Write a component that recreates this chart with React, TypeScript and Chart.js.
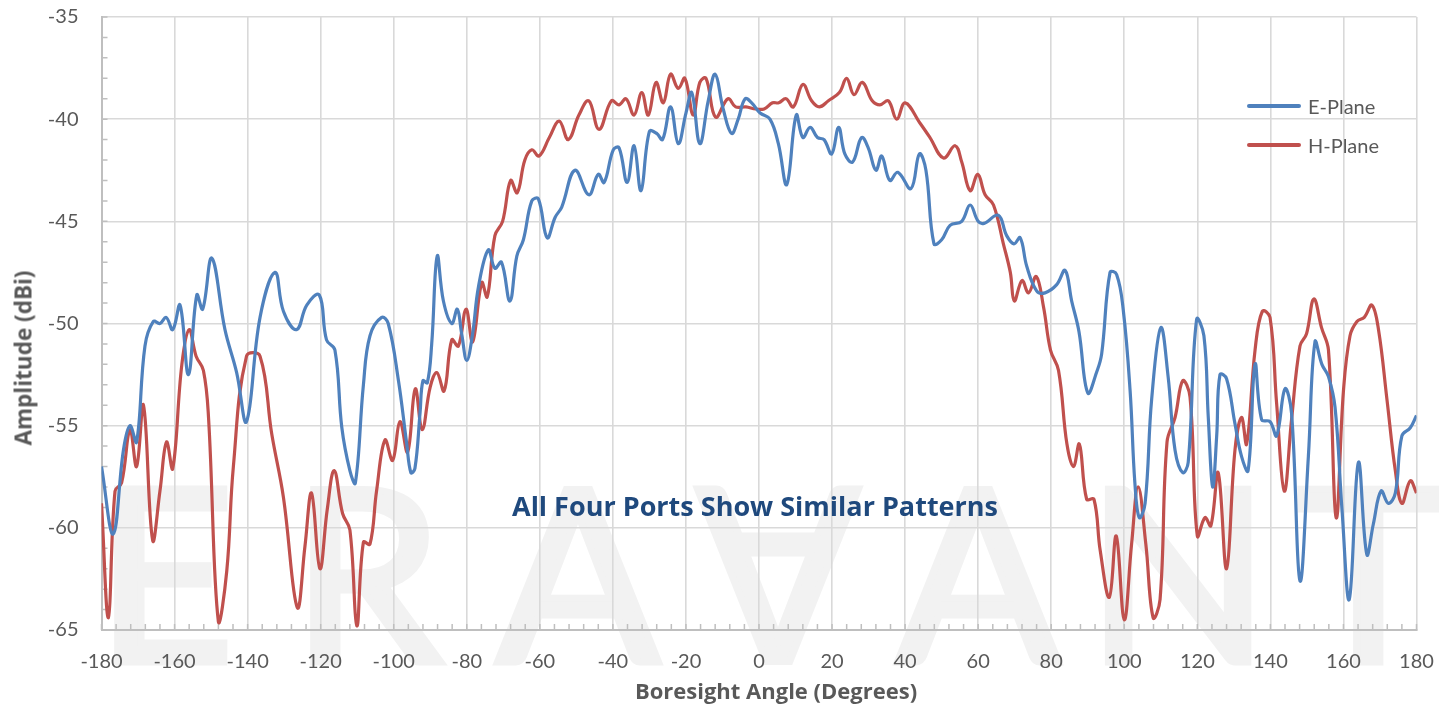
import React, { useEffect, useRef } from "react";
import { Chart, registerables } from "chart.js";

Chart.register(...registerables);

// ---- Data ----
const ePlaneAngles = [
  -180, -176.8, -174, -172.2, -170.4, -168.1, -165.8, -164, -162.3, -160.5, -158.5, -156.2, -153.9, -152.3,
  -149.8, -146.2, -143, -140.3, -136.6, -132.5, -130.2, -126.6, -123.8, -120.4, -118.4, -116.1, -114.2, -112,
  -110.5, -108.3, -106.5, -103.3, -101.5, -98.7, -96.5, -95.3, -94.2, -92.8, -92, -90.8, -89.6, -88.1, -86.4,
  -84.1, -82.6, -81.4, -80, -78.4, -76.8, -74.1, -72.3, -70.5, -68.2, -66.3, -64.5, -62.2, -60.4, -58, -55.8,
  -54, -50.4, -46.6, -44, -42.4, -39.9, -38.3, -36.1, -34.2, -32.3, -30, -28, -26.4, -24.2, -22.1, -20, -18.4,
  -16.2, -13.9, -12, -9.8, -7.5, -5.7, -3.8, -2, 0.3, 3, 5.3, 7.6, 10.2, 12, 14, 16, 17.8, 19.9, 21.8, 23.5,
  25.6, 28.1, 29.9, 32, 33.6, 35.8, 38, 41.6, 43.9, 45.7, 47.9, 50, 52.3, 55.5, 57.8, 60, 61.6, 65.5, 67.8,
  69.8, 71.5, 73.3, 76, 78.3, 81.5, 83.8, 85.6, 87.6, 90, 92.4, 93.8, 96.1, 97.9, 99.7, 101.6, 102.9, 104.1,
  105.7, 107.5, 110, 112, 113.9, 116, 117.5, 119.8, 121.8, 123, 124.2, 125.3, 126.2, 128, 130.3, 132.1, 133.9,
  135.8, 137.6, 139.9, 141.7, 144, 145.8, 148.1, 150.4, 152.2, 154.1, 155.9, 157.7, 159.6, 161.6, 164.1, 166.4,
  168.2, 170.3, 172.3, 174.2, 176, 178.3, 180,
];
const ePlaneValues = [
  -57.0, -60.3, -56.2, -55.0, -55.8, -51.1, -49.9, -50.0, -49.7, -50.3, -49.1, -52.5, -48.6, -49.3,
  -46.8, -50.3, -52.4, -54.8, -49.7, -47.5, -49.4, -50.3, -49.1, -48.6, -50.8, -51.3, -55.1, -57.2,
  -57.8, -53.0, -50.6, -49.7, -50.0, -52.8, -55.8, -57.3, -57.1, -54.4, -52.8, -52.9, -51.0, -46.7, -48.9,
  -50.0, -49.3, -50.5, -51.8, -50.5, -48.2, -46.4, -47.3, -47.0, -48.9, -46.7, -45.9, -44.0, -43.9, -45.8, -44.8,
  -44.3, -42.5, -43.7, -42.7, -43.1, -41.5, -41.4, -43.1, -41.3, -43.5, -40.6, -40.7, -41.0, -39.4, -41.2, -39.7, -38.7,
  -41.2, -39.1, -37.8, -39.5, -40.7, -40.0, -39.0, -39.2, -39.7, -40.0, -41.2, -43.2, -39.8, -40.9, -40.4, -40.9, -41.0, -41.7, -40.4, -41.7,
  -42.1, -40.9, -41.4, -42.5, -41.8, -43.0, -42.6, -43.4, -41.7, -42.5, -46.1, -45.9, -45.2, -45.0, -44.2, -45.0, -45.1, -44.7, -45.7,
  -46.1, -45.8, -47.2, -48.4, -48.5, -48.1, -47.4, -48.9, -50.4, -53.4, -52.4, -51.5, -47.5, -47.6, -49.3, -53.3, -57.8, -59.5,
  -58.8, -53.7, -50.2, -52.6, -56.2, -57.3, -56.8, -49.8, -50.6, -54.6, -58.0, -55.5, -52.5, -52.7, -54.9, -56.5, -57.2,
  -52.0, -54.7, -54.8, -55.5, -53.2, -54.4, -62.6, -56.5, -50.9, -52.0, -52.6, -54.1, -59.1, -63.5, -56.8, -61.3,
  -59.8, -58.2, -58.8, -58.3, -55.5, -55.1, -54.5,
];

const hPlaneAngles = [
  -180, -178.1, -176.3, -174.5, -172.2, -170.4, -168.5, -166, -164, -162.2, -160.5, -158, -156, -154.1, -152.1,
  -150.7, -148, -145.7, -143.9, -140.3, -136.6, -133.4, -130.2, -126.4, -124.3, -122.5, -120.2, -118.2, -116.3,
  -114, -112, -110.1, -108.3, -106.5, -104.7, -102.4, -100.3, -98.3, -96.2, -94.1, -92.2, -90, -88.2, -86.2,
  -84.1, -82.3, -80.2, -78.4, -75.9, -74.4, -72.3, -70.2, -68, -66.2, -64.1, -62.2, -60.2, -57.4, -54.7, -52.2,
  -49.3, -46.6, -43.8, -40.4, -38.3, -36.4, -34.2, -32.1, -30.3, -28.2, -26.2, -24.2, -22.1, -20.3, -18, -16.2,
  -14.5, -11.9, -8.5, -6.4, -3.6, -0.9, 1.4, 3.7, 5.4, 7.4, 9.4, 12, 14.4, 16.5, 19, 22, 24, 26, 28.3, 31, 33.1,
  35.4, 37.7, 40, 44.1, 46.8, 50.5, 53.7, 55.5, 57.8, 59.9, 61.9, 64.2, 66.9, 68.8, 69.9, 72, 73.8, 75.9, 77.9,
  79.8, 82, 84.3, 86.1, 87.7, 89.7, 91.7, 93.4, 95.9, 97.8, 100, 102, 103.8, 105.9, 107.9, 109.8, 111.7, 113.9,
  116, 118, 120, 122.1, 123.7, 125.7, 128, 130.3, 132.1, 133.5, 135.8, 137.8, 139.9, 141.7, 143.8, 145.8, 148.1,
  149.9, 151.9, 154, 155.9, 158, 160, 161.8, 163.7, 165.7, 167.8, 169.6, 171.9, 174.2, 176, 178.3, 180,
];
const hPlaneValues = [
  -58.8, -64.4, -58.2, -57.8, -55.2, -57.0, -54.0, -60.6, -58.2, -55.8, -57.1, -52.0, -50.3, -51.6, -52.3,
  -54.6, -64.6, -62.1, -57.0, -51.6, -51.6, -55.4, -58.5, -63.9, -60.9, -58.3, -62.0, -59.1, -57.2,
  -59.3, -60.1, -64.8, -60.7, -60.8, -58.2, -55.7, -56.7, -54.8, -56.3, -53.2, -55.2, -53.1, -52.4, -53.3,
  -50.8, -51.1, -49.3, -50.9, -48.0, -48.7, -45.7, -45.0, -43.0, -43.6, -42.0, -41.5, -41.8, -40.9, -40.1, -41.0,
  -39.8, -39.1, -40.5, -39.1, -39.3, -39.0, -39.8, -38.7, -39.8, -38.2, -39.2, -37.8, -38.5, -38.0, -39.8, -38.2,
  -38.0, -39.9, -39.0, -39.4, -39.4, -39.5, -39.5, -39.2, -39.2, -39.0, -39.4, -38.3, -39.1, -39.4, -39.1, -38.7, -38.0, -38.8, -38.2, -39.1, -39.3,
  -39.1, -40.0, -39.2, -40.2, -40.9, -41.9, -41.3, -42.1, -43.5, -42.7, -43.7, -44.2, -46.1, -47.5, -48.9, -47.9, -48.5, -47.7, -49.2,
  -51.3, -52.3, -55.9, -57.0, -55.9, -58.6, -58.6, -61.1, -63.4, -60.4, -64.5, -60.8, -58.0, -60.8, -64.4, -63.5, -55.8, -54.6,
  -52.8, -53.6, -60.4, -59.5, -59.9, -57.3, -62.0, -56.2, -54.6, -55.9, -51.3, -49.4, -49.7, -53.9, -58.2, -54.7, -51.1,
  -50.5, -48.8, -50.2, -51.3, -59.5, -53.3, -50.6, -49.9, -49.7, -49.1, -50.3, -53.7, -57.2, -58.8, -57.7, -58.3,
];

const seriesNames = ["E-Plane", "H-Plane"];
const xRange = [-180, 180];
const yRange = [-65, -35];
const xStep = 20;
const yStep = 5;
const xMinorStep = 4;
const yMinorStep = 1;
const annotationText = "All Four Ports Show Similar Patterns";
const xTitle = "Boresight Angle (Degrees)";
const yTitle = "Amplitude (dBi)";
const watermarkLetters = ["E", "R", "A", "V", "A", "N", "T"];

const BLUE = "#4f81bd";
const RED = "#c0504d";
const TXT = "#595959";
const FONT = "Lato, 'Open Sans', sans-serif";
const TITLE_FONT = "'Open Sans', Lato, sans-serif";

const watermarkPlugin = {
  id: "watermark",
  beforeDraw(chart: any) {
    const ctx = chart.ctx;
    const centers = [165, 367, 578, 778, 978, 1178, 1368];
    const base = 662;
    const cap = 173;
    ctx.save();
    ctx.fillStyle = "#f2f2f2";
    ctx.strokeStyle = "#f2f2f2";
    ctx.lineWidth = 7;
    ctx.lineJoin = "miter";
    ctx.font = "240px Lato, sans-serif";
    ctx.textAlign = "center";
    ctx.textBaseline = "alphabetic";
    watermarkLetters.forEach((l, i) => {
      if (l === "V") {
        ctx.save();
        ctx.translate(centers[i], base - cap / 2);
        ctx.rotate(Math.PI);
        ctx.fillText("A", 0, cap / 2);
        ctx.strokeText("A", 0, cap / 2);
        ctx.restore();
      } else {
        ctx.fillText(l, centers[i], base);
        ctx.strokeText(l, centers[i], base);
      }
    });
    ctx.restore();
  },
};

const minorTickPlugin = {
  id: "minorTicks",
  beforeDatasetsDraw(chart: any) {
    const ctx = chart.ctx;
    const xs = chart.scales.x;
    const ys = chart.scales.y;
    const area = chart.chartArea;
    ctx.save();
    ctx.strokeStyle = "#bfbfbf";
    ctx.lineWidth = 1.5;
    ctx.beginPath();
    for (let v = xRange[0]; v <= xRange[1]; v += xMinorStep) {
      const px = xs.getPixelForValue(v);
      ctx.moveTo(px, area.bottom);
      ctx.lineTo(px, area.bottom - 6);
    }
    for (let v = yRange[0]; v <= yRange[1]; v += yMinorStep) {
      const py = ys.getPixelForValue(v);
      ctx.moveTo(area.left, py);
      ctx.lineTo(area.left + 6, py);
    }
    ctx.stroke();
    ctx.restore();
  },
};

export default function App() {
  const canvasRef = useRef<HTMLCanvasElement | null>(null);

  useEffect(() => {
    document.body.style.margin = "0";
    const canvas = canvasRef.current;
    if (!canvas) return;
    const chart = new Chart(canvas, {
      type: "line",
      data: {
        datasets: [
          {
            label: seriesNames[0],
            data: ePlaneAngles.map((a, i) => ({ x: a, y: ePlaneValues[i] })),
            borderColor: BLUE,
            borderWidth: 3.2,
            pointRadius: 0,
            tension: 0.4,
            fill: false,
          },
          {
            label: seriesNames[1],
            data: hPlaneAngles.map((a, i) => ({ x: a, y: hPlaneValues[i] })),
            borderColor: RED,
            borderWidth: 3.2,
            pointRadius: 0,
            tension: 0.4,
            fill: false,
          },
        ],
      },
      options: {
        animation: false,
        responsive: false,
        maintainAspectRatio: false,
        devicePixelRatio: 1,
        layout: { padding: { top: 17, right: 35.5, left: 0, bottom: 0 } },
        plugins: { legend: { display: false }, tooltip: { enabled: false } },
        scales: {
          x: {
            type: "linear",
            min: xRange[0],
            max: xRange[1],
            afterFit: (s: any) => {
              s.height = 74;
            },
            ticks: {
              stepSize: xStep,
              color: TXT,
              font: { family: FONT, size: 20 },
              padding: 0,
              maxRotation: 0,
              autoSkip: false,
            },
            grid: { color: "#d9d9d9", lineWidth: 1.6, drawTicks: true, tickLength: 20, tickColor: "rgba(0,0,0,0)" },
            border: { display: true, color: "#bfbfbf", width: 2 },
          },
          y: {
            type: "linear",
            min: yRange[0],
            max: yRange[1],
            afterFit: (s: any) => {
              s.width = 101.5;
            },
            ticks: {
              stepSize: yStep,
              color: TXT,
              font: { family: FONT, size: 20 },
              padding: 0,
            },
            grid: { color: "#d9d9d9", lineWidth: 1.6, drawTicks: true, tickLength: 23, tickColor: "rgba(0,0,0,0)" },
            border: { display: true, color: "#bfbfbf", width: 2 },
          },
        },
      },
      plugins: [watermarkPlugin, minorTickPlugin],
    });
    return () => chart.destroy();
  }, []);

  const legendItem = (name: string, color: string, top: number) => (
    <div
      key={name}
      style={{ position: "absolute", left: 1247, top: top - 14, height: 28, display: "flex", alignItems: "center" }}
    >
      <div style={{ width: 54, height: 3.5, background: color, borderRadius: 2 }} />
      <span style={{ marginLeft: 7, fontFamily: FONT, fontSize: 20, color: TXT, whiteSpace: "nowrap" }}>{name}</span>
    </div>
  );

  return (
    <div style={{ position: "relative", width: 1452, height: 704, overflow: "hidden", background: "#fff" }}>
      <canvas ref={canvasRef} width={1452} height={704} style={{ display: "block", width: 1452, height: 704 }} />
      {legendItem(seriesNames[0], BLUE, 106)}
      {legendItem(seriesNames[1], RED, 145)}
      <div
        style={{
          position: "absolute",
          left: 755,
          top: 505,
          transform: "translate(-50%, -50%)",
          fontFamily: TITLE_FONT,
          fontWeight: 700,
          fontSize: 27,
          color: "#1f497d",
          whiteSpace: "nowrap",
        }}
      >
        {annotationText}
      </div>
      <div
        style={{
          position: "absolute",
          left: 776,
          top: 690,
          transform: "translate(-50%, -50%)",
          fontFamily: TITLE_FONT,
          fontWeight: 700,
          fontSize: 22,
          color: TXT,
          whiteSpace: "nowrap",
        }}
      >
        {xTitle}
      </div>
      <div
        style={{
          position: "absolute",
          left: 23,
          top: 358,
          transform: "translate(-50%, -50%) rotate(-90deg)",
          fontFamily: TITLE_FONT,
          fontWeight: 700,
          fontSize: 22.5,
          color: TXT,
          whiteSpace: "nowrap",
        }}
      >
        {yTitle}
      </div>
    </div>
  );
}
